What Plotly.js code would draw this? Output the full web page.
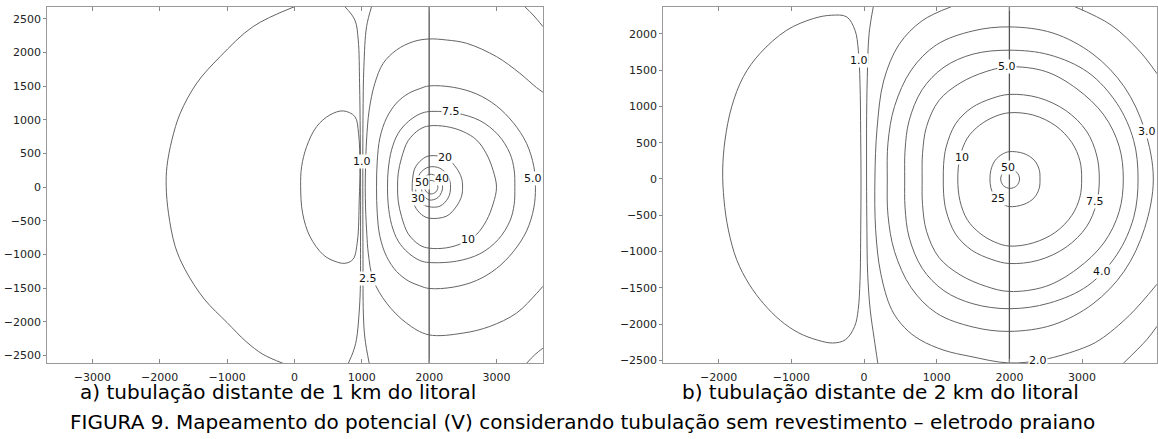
<!DOCTYPE html>
<html>
<head>
<meta charset="utf-8">
<script src="https://cdn.plot.ly/plotly-3.0.1.min.js"></script>
<style>html,body{margin:0;padding:0;background:#fff;}#chart{width:1158px;height:439px;}</style>
</head>
<body>
<div id="chart"></div>
<script>
// ---------- Panel a: contour lines (x, y in metres) ----------
const a_outer_x = [0, -613, -1102, -1448, -1695, -1819, -1893, -1904, -1870, -1770, -1622, -1340, -1000, -720, -470, -170];
const a_outer_y = [2680, 2386, 1940, 1548, 1100, 703, 306, 9, -386, -882, -1226, -1660, -2010, -2290, -2480, -2615];
const a_oval_x = [724, 527, 329, 181, 107, 92, 121, 230, 428, 600, 749, 870, 935, 962, 972, 952, 897, 724];
const a_oval_y = [1133, 1073, 900, 603, 307, 10, -386, -732, -1004, -1100, -1130, -1070, -800, -188, 307, 801, 1049, 1133];
const a_neckL_x = [749, 897, 947, 967, 977, 982, 981, 978, 960, 920, 870, 799];
const a_neckL_y = [2680, 2483, 2186, 1543, 801, 0, -800, -1500, -1870, -2265, -2450, -2615];
const a_neckR_x = [1145, 1071, 1031, 1018, 1015, 1018, 1023, 1046, 1110];
const a_neckR_y = [2680, 2384, 1790, 1049, 0, -1078, -1870, -2240, -2615];
const a_c25_x = [3690, 3593, 3346, 3000, 2555, 2258, 1996, 1763, 1516, 1318, 1194, 1110, 1071, 1056, 1051, 1056, 1075, 1096, 1170, 1368, 1664, 1991, 2505, 2901, 3296, 3593, 3690];
const a_c25_y = [1410, 1480, 1692, 1939, 2137, 2186, 2201, 2161, 2038, 1840, 1543, 1147, 702, 307, 0, -307, -702, -979, -1375, -1721, -2018, -2191, -2166, -2067, -1870, -1580, -1470];
const a_cornerTop_x = [3420, 3544, 3690];
const a_cornerTop_y = [2680, 2557, 2384];
const a_cornerBot_x = [3445, 3568, 3690];
const a_cornerBot_y = [-2615, -2488, -2389];
const a_c5_x = [2000, 2357, 2703, 3000, 3247, 3445, 3554, 3578, 3554, 3445, 3247, 3000, 2703, 2357, 2000, 1862, 1689, 1516, 1368, 1269, 1229, 1219, 1229, 1269, 1368, 1516, 1689, 1862, 2000];
const a_c5_y = [1504, 1484, 1385, 1207, 960, 653, 307, 0, -307, -653, -960, -1207, -1385, -1484, -1504, -1464, -1390, -1251, -1029, -732, -386, 0, 386, 732, 1029, 1251, 1390, 1464, 1504];
const a_c75_x = [2000, 2407, 2753, 3025, 3198, 3262, 3272, 3262, 3198, 3025, 2753, 2407, 2000, 1862, 1689, 1541, 1442, 1392, 1382, 1392, 1442, 1541, 1689, 1862, 2000];
const a_c75_y = [1123, 1098, 989, 777, 504, 257, 0, -257, -504, -777, -989, -1098, -1118, -1088, -974, -801, -554, -257, 0, 257, 554, 801, 974, 1088, 1123];
const a_c10_x = [2000, 2258, 2505, 2703, 2851, 2950, 3000, 2950, 2851, 2703, 2505, 2258, 2000, 1862, 1689, 1590, 1541, 1531, 1541, 1590, 1689, 1862, 2000];
const a_c10_y = [910, 900, 826, 702, 495, 247, 0, -247, -495, -702, -826, -900, -905, -861, -692, -435, -208, 0, 208, 435, 692, 861, 910];
const a_c20_x = [2000, 2258, 2407, 2481, 2496, 2481, 2407, 2258, 2000, 1887, 1788, 1753, 1748, 1753, 1788, 1887, 2000];
const a_c20_y = [465, 430, 282, 134, 0, -134, -282, -430, -460, -406, -282, -109, 0, 109, 282, 406, 465];
const a_c30_x = [2000, 2159, 2283, 2318, 2283, 2159, 2000, 1880, 1815, 1800, 1820, 1887, 2000];
const a_c30_y = [300, 282, 158, 0, -158, -282, -290, -240, -130, 0, 109, 232, 300];
const a_c40_x = [2000, 2135, 2200, 2135, 2000, 1912, 1885, 1912, 2000];
const a_c40_y = [190, 150, 0, -150, -190, -109, 0, 109, 190];
const a_c50_x = [2030, 2100, 2130, 2100, 2030, 1960, 1930, 1960, 2030];
const a_c50_y = [100, 70, 0, -70, -100, -70, 0, 70, 100];
const a_pipe_x = [2000, 2000];
const a_pipe_y = [-2615, 2680];
const a_label_text = ['1.0', '2.5', '7.5', '20', '5.0', '50', '40', '30', '10'];
const a_label_x = [997, 1096, 2317, 2233, 3544, 1887, 2184, 1837, 2579];
const a_label_y = [381, -1360, 1123, 445, 134, 69, 124, -173, -772];

// ---------- Panel b: contour lines ----------
const b_oval_x = [-445, -238, -124, -78, -55, -46, -41, -45, -55, -80, -129, -256, -430, -640, -900, -1150, -1380, -1580, -1751, -1866, -1926, -1944, -1912, -1820, -1660, -1431, -1064, -697, -445];
const b_oval_y = [2256, 2233, 2049, 1774, 1316, 628, 0, -700, -1400, -1800, -2032, -2215, -2260, -2220, -2120, -1950, -1720, -1450, -1114, -702, -289, 124, 536, 995, 1408, 1729, 2049, 2210, 2256];
const b_neck_x = [128, 70, 45, 35, 35, 40, 50, 85, 140, 190];
const b_neck_y = [2373, 2000, 1400, 700, 0, -700, -1300, -1800, -2200, -2540];
const b_c2_x = [1200, 800, 480, 270, 180, 150, 160, 230, 380, 560, 770, 1100, 1458, 1994, 2466, 3016, 3246, 3650, 4030];
const b_c2_y = [2373, 2180, 1850, 1350, 700, 0, -700, -1300, -1800, -2050, -2215, -2360, -2444, -2535, -2490, -2329, -2215, -1880, -1450];
const b_c2top_x = [2900, 3400, 3800, 4030];
const b_c2top_y = [2373, 2120, 1750, 1450];
const b_cornerBot_x = [3567, 3889, 4030];
const b_cornerBot_y = [-2540, -2215, -2030];
const b_c3_x = [2000, 2600, 3150, 3580, 3860, 3980, 3860, 3580, 3150, 2600, 2000, 1500, 1000, 650, 420, 330, 320, 330, 420, 650, 1000, 1500, 2000];
const b_c3_y = [2095, 2010, 1720, 1270, 680, 0, -680, -1270, -1720, -2010, -2100, -2040, -1850, -1500, -1000, -500, 0, 500, 1000, 1500, 1850, 2040, 2095];
const b_c4_x = [2000, 2550, 3080, 3480, 3710, 3770, 3710, 3480, 3080, 2550, 2000, 1500, 1100, 800, 620, 565, 560, 565, 620, 800, 1100, 1500, 2000];
const b_c4_y = [1774, 1710, 1470, 1040, 530, 0, -530, -1040, -1470, -1710, -1788, -1720, -1540, -1230, -800, -400, 0, 400, 800, 1230, 1540, 1720, 1774];
const b_c5_x = [2000, 2500, 2930, 3300, 3510, 3567, 3510, 3300, 2930, 2500, 2000, 1680, 1320, 1030, 860, 805, 800, 805, 860, 1030, 1320, 1680, 2000];
const b_c5_y = [1545, 1480, 1240, 880, 450, 0, -450, -880, -1240, -1480, -1550, -1480, -1320, -1080, -720, -350, 0, 350, 720, 1080, 1320, 1480, 1545];
const b_c75_x = [2000, 2400, 2780, 3060, 3200, 3237, 3200, 3060, 2780, 2400, 2000, 1760, 1480, 1260, 1130, 1095, 1091, 1095, 1130, 1260, 1480, 1760, 2000];
const b_c75_y = [1165, 1120, 940, 660, 330, 0, -330, -660, -940, -1120, -1165, -1110, -980, -760, -440, -200, 0, 200, 440, 760, 980, 1110, 1165];
const b_c10_x = [2000, 2330, 2640, 2860, 2970, 2994, 2970, 2860, 2640, 2330, 2000, 1800, 1590, 1420, 1320, 1290, 1320, 1420, 1590, 1800, 2000];
const b_c10_y = [912, 880, 730, 500, 250, 0, -250, -500, -730, -880, -925, -870, -745, -560, -300, 0, 300, 560, 740, 860, 912];
const b_c25_x = [2000, 2200, 2340, 2410, 2421, 2410, 2340, 2200, 2000, 1900, 1800, 1745, 1733, 1745, 1800, 1900, 2000];
const b_c25_y = [376, 350, 260, 130, 0, -130, -260, -350, -381, -340, -250, -120, 0, 120, 250, 340, 376];
const b_c50_x = [2010, 2102, 2140, 2102, 2010, 1918, 1880, 1918, 2010];
const b_c50_y = [130, 92, 0, -92, -130, -92, 0, 92, 130];
const b_pipe_x = [2000, 2000];
const b_pipe_y = [-2540, 2373];
const b_label_text = ['1.0', '5.0', '3.0', '10', '50', '25', '7.5', '4.0', '2.0'];
const b_label_x = [-64, 1962, 3897, 1343, 1985, 1848, 3177, 3269, 2398];
const b_label_y = [1637, 1545, 651, 298, 160, -266, -312, -1275, -2499];

// ---------- Axes ----------
const a_xticks = [-3000, -2000, -1000, 0, 1000, 2000, 3000];
const a_yticks = [-2500, -2000, -1500, -1000, -500, 0, 500, 1000, 1500, 2000, 2500];
const b_xticks = [-2000, -1000, 0, 1000, 2000, 3000];
const b_yticks = [-2500, -2000, -1500, -1000, -500, 0, 500, 1000, 1500, 2000];
const a_xrange = [-3670, 3690], a_yrange = [-2615, 2680];
const b_xrange = [-2761, 4030], b_yrange = [-2540, 2373];

const captions = ['a) tubulação distante de 1 km do litoral', 'b) tubulação distante de 2 km do litoral',
  'FIGURA 9. Mapeamento do potencial (V) considerando tubulação sem revestimento – eletrodo praiano'];

const LINE = '#646464';
const FONT = 'DejaVu Sans';

function contour(x, y, xa, ya) {
  return {type: 'scatter', mode: 'lines', x: x, y: y, xaxis: xa, yaxis: ya,
    line: {color: LINE, width: 1, shape: 'spline', smoothing: 1}, hoverinfo: 'skip'};
}
const aCurves = [[a_outer_x, a_outer_y], [a_oval_x, a_oval_y], [a_neckL_x, a_neckL_y], [a_neckR_x, a_neckR_y],
  [a_c25_x, a_c25_y], [a_cornerTop_x, a_cornerTop_y], [a_cornerBot_x, a_cornerBot_y], [a_c5_x, a_c5_y],
  [a_c75_x, a_c75_y], [a_c10_x, a_c10_y], [a_c20_x, a_c20_y], [a_c30_x, a_c30_y], [a_c40_x, a_c40_y], [a_c50_x, a_c50_y]];
const bCurves = [[b_oval_x, b_oval_y], [b_neck_x, b_neck_y], [b_c2_x, b_c2_y], [b_c2top_x, b_c2top_y],
  [b_cornerBot_x, b_cornerBot_y], [b_c3_x, b_c3_y], [b_c4_x, b_c4_y], [b_c5_x, b_c5_y], [b_c75_x, b_c75_y],
  [b_c10_x, b_c10_y], [b_c25_x, b_c25_y], [b_c50_x, b_c50_y]];

const data = [];
aCurves.forEach(c => data.push(contour(c[0], c[1], 'x', 'y')));
bCurves.forEach(c => data.push(contour(c[0], c[1], 'x2', 'y2')));
data.push({type: 'scatter', mode: 'lines', x: a_pipe_x, y: a_pipe_y, xaxis: 'x', yaxis: 'y',
  line: {color: '#555', width: 1.3}, hoverinfo: 'skip'});
data.push({type: 'scatter', mode: 'lines', x: b_pipe_x, y: b_pipe_y, xaxis: 'x2', yaxis: 'y2',
  line: {color: '#555', width: 1.3}, hoverinfo: 'skip'});

const annotations = [];
a_label_text.forEach((t, i) => annotations.push({text: t, x: a_label_x[i], y: a_label_y[i], xref: 'x', yref: 'y',
  showarrow: false, bgcolor: 'white', borderpad: 0, font: {family: FONT, size: 11, color: '#111'}}));
b_label_text.forEach((t, i) => annotations.push({text: t, x: b_label_x[i], y: b_label_y[i], xref: 'x2', yref: 'y2',
  showarrow: false, bgcolor: 'white', borderpad: 0, font: {family: FONT, size: 11, color: '#111'}}));
const capFont = {family: 'DejaVu Sans', size: 20, color: '#000'};
annotations.push({text: captions[0], x: 0.240, y: 0.107, xref: 'paper', yref: 'paper', showarrow: false, font: capFont, xanchor: 'center', yanchor: 'middle'});
annotations.push({text: captions[1], x: 0.760, y: 0.107, xref: 'paper', yref: 'paper', showarrow: false, font: capFont, xanchor: 'center', yanchor: 'middle'});
annotations.push({text: captions[2], x: 0.5026, y: 0.038, xref: 'paper', yref: 'paper', showarrow: false, font: capFont, xanchor: 'center', yanchor: 'middle'});

const tickFont = {family: FONT, size: 11, color: '#222'};
const ydom = [0.1724, 0.9847];
function xax(dom, range, ticks, anchor) {
  return {domain: dom, range: range, tickvals: ticks, ticks: 'inside', ticklen: 4, tickcolor: '#888',
    mirror: 'ticks', showline: true, linecolor: '#999', linewidth: 1, showgrid: false, zeroline: false,
    tickfont: tickFont, ticklabelstandoff: 3, anchor: anchor, fixedrange: true};
}
function yax(range, ticks, anchor) {
  return {domain: ydom, range: range, tickvals: ticks, ticks: 'outside', ticklen: 3, tickcolor: '#888',
    mirror: true, showline: true, linecolor: '#999', linewidth: 1, showgrid: false, zeroline: false,
    tickfont: tickFont, anchor: anchor, fixedrange: true};
}
function yright(range, ticks, anchor, over) {
  return {domain: ydom, range: range, tickvals: ticks, ticks: 'inside', ticklen: 4, tickcolor: '#888',
    showticklabels: false, showline: false, showgrid: false, zeroline: false, side: 'right',
    overlaying: over, anchor: anchor, fixedrange: true};
}

const layout = {
  width: 1158, height: 439, margin: {l: 0, r: 0, t: 0, b: 0},
  paper_bgcolor: '#fff', plot_bgcolor: '#fff', showlegend: false,
  xaxis: xax([0.0408, 0.4689], a_xrange, a_xticks, 'y'),
  yaxis: yax(a_yrange, a_yticks, 'x'),
  xaxis2: xax([0.5728, 0.9991], b_xrange, b_xticks, 'y2'),
  yaxis2: yax(b_yrange, b_yticks, 'x2'),
  yaxis3: yright(a_yrange, a_yticks, 'x', 'y'),
  yaxis4: yright(b_yrange, b_yticks, 'x2', 'y2'),
  annotations: annotations
};

Plotly.newPlot('chart', data, layout, {staticPlot: true, displayModeBar: false});
</script>
</body>
</html>
